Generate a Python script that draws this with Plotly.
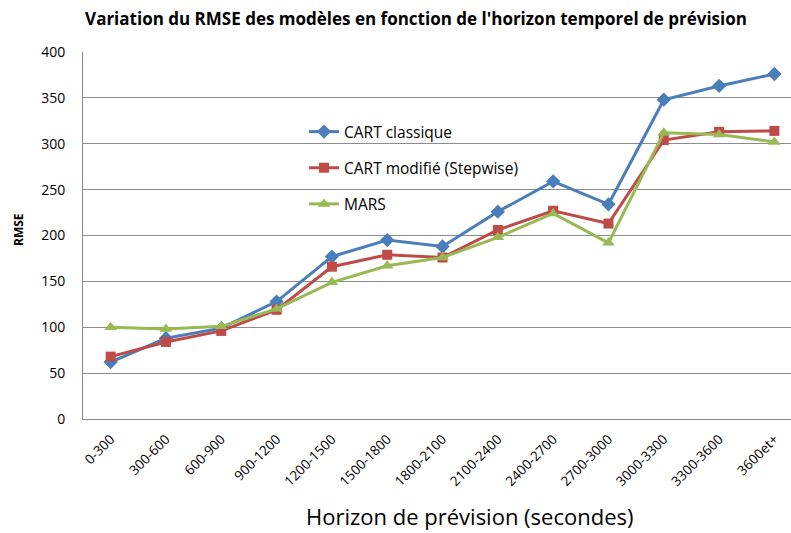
import plotly.graph_objects as go

categories = ["0-300", "300-600", "600-900", "900-1200", "1200-1500", "1500-1800",
              "1800-2100", "2100-2400", "2400-2700", "2700-3000", "3000-3300",
              "3300-3600", "3600et+"]
cart_classique = [62, 88, 99, 128, 177, 195, 188, 226, 259, 234, 348, 363, 376]
cart_modifie = [68, 84, 96, 119, 166, 179, 176, 206, 227, 213, 304, 313, 314]
mars = [100, 98, 101, 120, 149, 167, 176, 198, 224, 192, 312, 310, 302]

series_names = ["CART classique", "CART modifié (Stepwise)", "MARS"]
colors = ["#4A7EBB", "#BE4B48", "#98B954"]
symbols = ["diamond", "square", "triangle-up"]
sizes = [11, 10, 11]

W, H = 791, 533
L, T, R, B = 83, 52, 0, 114
PW, PH = W - L - R, H - T - B
FONT = "Open Sans"


def px_x(x):
    return (x - L) / PW


def px_y(y):
    return (H - B - y) / PH


fig = go.Figure()
x_idx = list(range(len(categories)))
for i, (name, vals) in enumerate(zip(series_names, [cart_classique, cart_modifie, mars])):
    fig.add_trace(go.Scatter(
        x=x_idx, y=vals, name=name, mode="lines+markers",
        legendgroup=f"g{i}",
        line=dict(color=colors[i], width=3),
        marker=dict(symbol=symbols[i], size=sizes[i], color=colors[i]),
    ))

fig.update_layout(
    width=W, height=H,
    margin=dict(l=L, r=R, t=T, b=B, autoexpand=False),
    paper_bgcolor="white", plot_bgcolor="white",
    font=dict(family=FONT, color="#000000"),
    title=dict(text="<b>Variation du RMSE des modèles en fonction de l'horizon temporel de prévision</b>",
               font=dict(size=17, family=FONT, color="#000000"),
               x=416 / W, xanchor="center", xref="container",
               y=1 - 19 / H, yanchor="middle", yref="container"),
    legend=dict(x=px_x(304), y=px_y(115), xref="paper", yref="paper",
                xanchor="left", yanchor="top", bgcolor="rgba(0,0,0,0)",
                font=dict(size=15.5, family=FONT, color="#000000"),
                tracegroupgap=13, itemwidth=30),
    showlegend=True,
)

fig.update_xaxes(
    range=[-0.5, 12.3],
    tickmode="array", tickvals=x_idx, ticktext=categories,
    tickangle=-45, tickfont=dict(size=13.5, family=FONT, color="#000000"),
    showgrid=False, showline=True, linecolor="#888888", linewidth=1,
    ticks="", zeroline=False, automargin=False, ticklabelstandoff=6,
)
fig.update_yaxes(
    range=[0, 400], dtick=50,
    tickfont=dict(size=14, family=FONT, color="#000000"),
    showgrid=True, gridcolor="#8C8C8C", gridwidth=1,
    showline=True, linecolor="#888888", linewidth=1,
    zeroline=False, ticks="", ticklabelstandoff=14, automargin=False,
)

fig.add_annotation(text="<b>RMSE</b>", x=px_x(19), y=px_y(230), xref="paper", yref="paper",
                   xanchor="center", yanchor="middle",
                   showarrow=False, textangle=-90, font=dict(size=12, family=FONT, color="#000000"))
fig.add_annotation(text="Horizon de prévision (secondes)", x=px_x(470), y=px_y(516),
                   xref="paper", yref="paper", xanchor="center", yanchor="middle",
                   showarrow=False,
                   font=dict(size=22, family=FONT, color="#000000"))

fig.write_html("out.html", config={"displayModeBar": False},
               post_script="document.body.style.margin='0px';")
